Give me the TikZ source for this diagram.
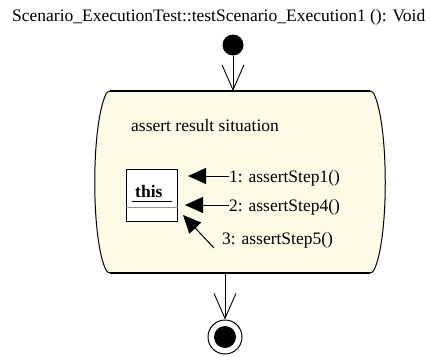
\documentclass[tikz,border=0pt]{standalone}
\usepackage{fontspec}
\setmainfont{Liberation Serif}
\usetikzlibrary{arrows.meta}
\definecolor{actfill}{RGB}{251,251,232}
\definecolor{divgray}{RGB}{150,150,150}
\tikzset{
  txt/.style={inner sep=0pt, font=\fontsize{17.5}{20}\selectfont},
  flow/.style={line width=0.9pt, -{Straight Barb[length=25pt,width=22pt,line width=0.9pt]}},
  msg/.style={line width=1pt, -{Triangle[length=18pt,width=16pt]}},
}
\begin{document}
\begin{tikzpicture}[x=1pt,y=-1pt]
\useasboundingbox (0,0) rectangle (430,356);
% title
\node[txt, anchor=base west] (title) at (12,21) {Scenario\_ExecutionTest::testScenario\_Execution1 (): Void};
% initial state
\node[circle, fill=black, inner sep=0pt, minimum size=21pt] (init) at (233,45) {};
% activity box
\coordinate (actTop) at (233,91);
\coordinate (actBot) at (225,273);
\path[fill=actfill, draw=black, line width=1pt]
  (112,91) -- (368,91) .. controls (372,91) and (373,92) .. (374,94)
  .. controls (389,125) and (389,240) .. (374,270)
  .. controls (373,272) and (372,273) .. (368,273)
  -- (112,273) .. controls (108,273) and (107,272) .. (106,270)
  .. controls (91,240) and (91,125) .. (106,94)
  .. controls (107,92) and (108,91) .. (112,91) -- cycle;
\draw[line width=1.3pt] (110,91) -- (370,91);
\draw[line width=1.3pt] (110,273) -- (370,273);
\node[txt, anchor=base west] (state) at (131,131) {assert result situation};
% object box
\node[draw=black, line width=1pt, fill=white, minimum width=51pt, minimum height=52pt, inner sep=0pt] (obj) at (151.5,195) {};
\draw[divgray, line width=0.8pt] (obj.west |- 0,207) -- (obj.east |- 0,207);
\node[txt, anchor=base west, font=\fontsize{17.5}{20}\selectfont\bfseries] (this) at (135,197) {this};
\draw[line width=1pt] (132,201) -- (172,201);
% messages
\node[txt, anchor=base west] (m1) at (229,182) {1: assertStep1()};
\node[txt, anchor=base west] (m2) at (229,211) {2: assertStep4()};
\node[txt, anchor=base west] (m3) at (222,244) {3: assertStep5()};
\coordinate (t1) at (188,176);
\coordinate (t2) at (185,205);
\coordinate (t3) at (183,215);
\coordinate (s3) at (214,248);
\draw[msg] (m1.west |- t1) -- (t1);
\draw[msg] (m2.west |- t2) -- (t2);
\draw[msg] (s3) -- (t3);
% final state
\node[circle, draw=black, line width=1pt, fill=white, inner sep=0pt, minimum size=34pt] (final) at (225,337) {};
\node[circle, fill=black, inner sep=0pt, minimum size=22pt] (finalin) at (final.center) {};
% flows
\draw[flow] (init.south) -- (actTop);
\draw[flow] (actBot) -- (final.north);
\end{tikzpicture}
\end{document}
